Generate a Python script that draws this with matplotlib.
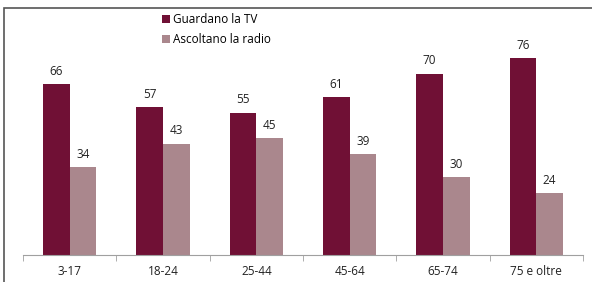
import matplotlib.pyplot as plt
import numpy as np
from matplotlib.patches import Rectangle

categories = ['3-17', '18-24', '25-44', '45-64', '65-74', '75 e oltre']
tv = [66, 57, 55, 61, 70, 76]
radio = [34, 43, 45, 39, 30, 24]
series_names = ['Guardano la TV', 'Ascoltano la radio']

plt.rcParams['font.family'] = ['Open Sans', 'DejaVu Sans']

fig = plt.figure(figsize=(5.92, 2.82), dpi=100)
ax = fig.add_axes([23 / 592, 27 / 282, 560 / 592, 245 / 282])

x = np.arange(len(categories))
w = 0.285
b1 = ax.bar(x - w / 2, tv, w, color='#701035', label=series_names[0])
b2 = ax.bar(x + w / 2, radio, w, color='#aa878d', label=series_names[1])

for bars in (b1, b2):
    for r in bars:
        ax.annotate(f'{int(r.get_height())}', (r.get_x() + r.get_width() / 2, r.get_height()),
                    xytext=(0, 4.5), textcoords='offset points', ha='center', va='bottom',
                    fontsize=8.5, color='#222222')

ax.set_xlim(-0.5, len(categories) - 0.5)
ax.set_ylim(0, 245 / 2.59)
ax.set_xticks(x)
ax.set_xticklabels(categories, fontsize=8.5, color='#222222')
ax.set_xticks(np.arange(-0.5, len(categories)), minor=True)
ax.tick_params(axis='x', which='major', length=0, pad=7)
ax.tick_params(axis='x', which='minor', length=4, color='#a0a0a0')
ax.set_yticks([])
for s in ('left', 'right', 'top'):
    ax.spines[s].set_visible(False)
ax.spines['bottom'].set_color('#a0a0a0')

ax.legend(loc='upper left', bbox_to_anchor=(128 / 560, 1.03), frameon=False,
          fontsize=8.5, handlelength=0.7, handleheight=0.7, handletextpad=0.3,
          labelspacing=0.6)

# outer frame of the original chart box
fig.patches.append(Rectangle((4 / 592, -0.1), 1.2, (282 - 8) / 282 + 0.1,
                             transform=fig.transFigure, fill=False,
                             edgecolor='#555555', linewidth=1.2))

fig.savefig('out.png', dpi=100)
